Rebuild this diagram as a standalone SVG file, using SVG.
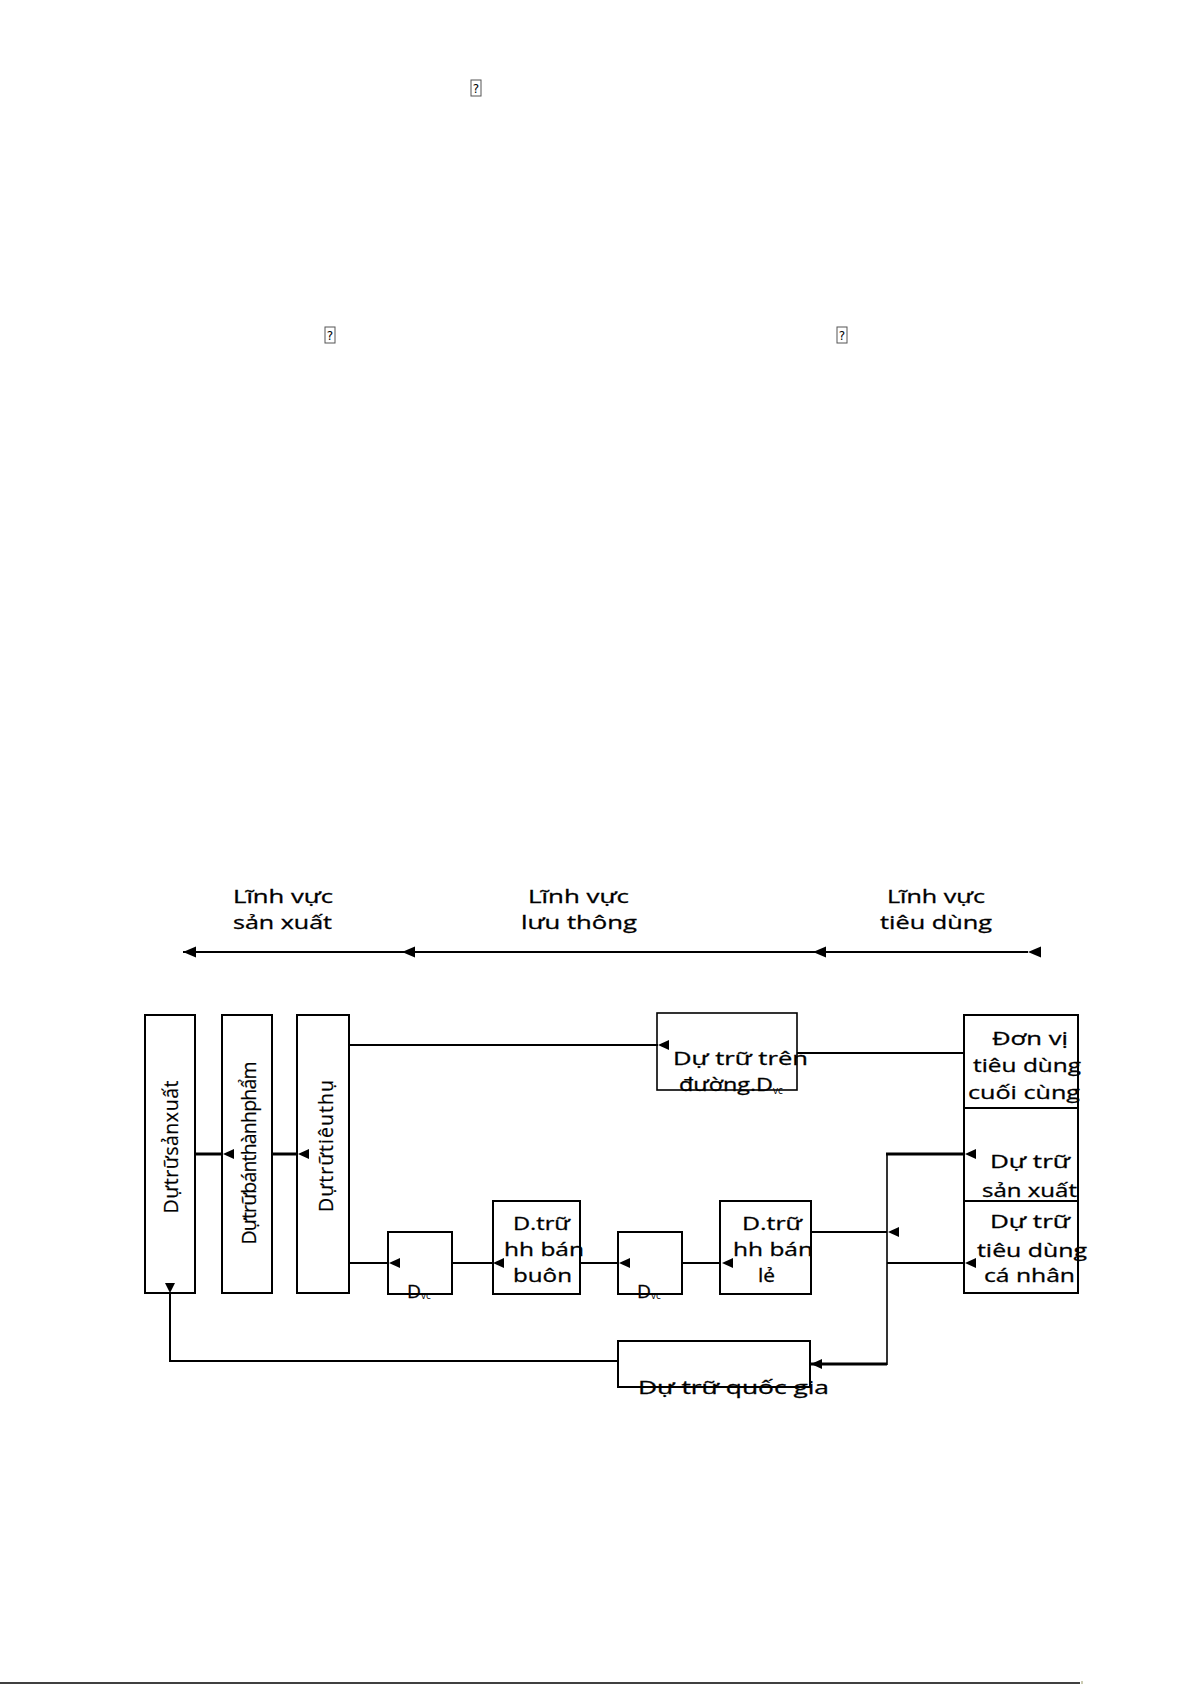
<svg xmlns="http://www.w3.org/2000/svg" xmlns:xlink="http://www.w3.org/1999/xlink" width="1192" height="1685" viewBox="0 0 1192 1685">
<style>
  .bg{fill:#ffffff}
  .box{fill:none;stroke:#000;stroke-width:2}
  .thin{fill:none;stroke:#000;stroke-width:1.6}
  .ln{fill:none;stroke:#000;stroke-width:2}
  .thk{fill:none;stroke:#000;stroke-width:3}
  .ah{fill:#000}
  .t{font-family:"Open Sans","Liberation Sans",sans-serif;font-size:18.5px;fill:#000;text-anchor:start;stroke:#000;stroke-width:0.3}
  .v{font-family:"Open Sans","Liberation Sans",sans-serif;font-size:19.5px;fill:#000;text-anchor:middle;stroke:#000;stroke-width:0.2}
  .sub{font-family:"Open Sans","Liberation Sans",sans-serif;font-size:10px;fill:#000}
  .q{font-family:"DejaVu Sans",sans-serif;font-size:12px;fill:#000;text-anchor:middle}
  .qb{fill:#fff;stroke:#555;stroke-width:1}
</style>
<defs>
  <path id="ah" d="M0,0 L11,-5 L11,5 Z"/>
  <path id="ahL" d="M0,0 L13,-5.5 L13,5.5 Z"/>
</defs>
<rect class="bg" x="0" y="0" width="1192" height="1685"/>

<g id="missing-glyphs">
  <rect class="qb" x="471" y="80" width="10" height="16"/>
  <text class="q" x="476" y="93">?</text>
  <rect class="qb" x="325" y="327" width="10" height="16"/>
  <text class="q" x="330" y="340">?</text>
  <rect class="qb" x="837" y="327" width="10" height="16"/>
  <text class="q" x="842" y="340">?</text>
</g>

<g id="labels">
  <text class="t" x="233" y="903" textLength="100" lengthAdjust="spacingAndGlyphs">Lĩnh vực</text>
  <text class="t" x="233" y="929" textLength="99" lengthAdjust="spacingAndGlyphs">sản xuất</text>
  <text class="t" x="528" y="903" textLength="101" lengthAdjust="spacingAndGlyphs">Lĩnh vực</text>
  <text class="t" x="521" y="929" textLength="116" lengthAdjust="spacingAndGlyphs">lưu thông</text>
  <text class="t" x="887" y="903" textLength="98" lengthAdjust="spacingAndGlyphs">Lĩnh vực</text>
  <text class="t" x="880" y="929" textLength="112" lengthAdjust="spacingAndGlyphs">tiêu dùng</text>
</g>

<g id="connectors">
  <!-- top axis -->
  <line class="ln" x1="183" y1="952" x2="1028" y2="952"/>
  <use href="#ahL" class="ah" x="183" y="952"/>
  <use href="#ahL" class="ah" x="402" y="952"/>
  <use href="#ahL" class="ah" x="813" y="952"/>
  <use href="#ahL" class="ah" x="1028" y="952"/>
  <!-- box1 <- box2 <- box3 -->
  <line class="thk" x1="195" y1="1154" x2="222" y2="1154"/>
  <use href="#ah" class="ah" x="223" y="1154"/>
  <line class="thk" x1="272" y1="1154" x2="297" y2="1154"/>
  <use href="#ah" class="ah" x="298" y="1154"/>
  <!-- box3 top line to in-transit box -->
  <line class="ln" x1="349" y1="1045" x2="658" y2="1045"/>
  <use href="#ah" class="ah" x="658" y="1045"/>
  <!-- in-transit to end consumer -->
  <line class="ln" x1="797" y1="1053" x2="964" y2="1053"/>
  <!-- lower chain -->
  <line class="ln" x1="349" y1="1263" x2="388" y2="1263"/>
  <use href="#ah" class="ah" x="389" y="1263"/>
  <line class="ln" x1="452" y1="1263" x2="493" y2="1263"/>
  <use href="#ah" class="ah" x="493" y="1263"/>
  <line class="ln" x1="580" y1="1263" x2="618" y2="1263"/>
  <use href="#ah" class="ah" x="619" y="1263"/>
  <line class="ln" x1="682" y1="1263" x2="720" y2="1263"/>
  <use href="#ah" class="ah" x="722" y="1263"/>
  <!-- retail to vertical bus -->
  <line class="ln" x1="811" y1="1232" x2="887" y2="1232"/>
  <use href="#ah" class="ah" x="888" y="1232"/>
  <!-- vertical bus -->
  <line class="thin" x1="887" y1="1153" x2="887" y2="1365"/>
  <line class="thk" x1="886" y1="1154" x2="964" y2="1154"/>
  <use href="#ah" class="ah" x="965" y="1154"/>
  <line class="ln" x1="887" y1="1263" x2="964" y2="1263"/>
  <use href="#ah" class="ah" x="965" y="1263"/>
  <line class="thk" x1="887" y1="1364" x2="811" y2="1364"/>
  <use href="#ah" class="ah" x="811" y="1364"/>
  <!-- national reserve back to production -->
  <polyline class="ln" points="618,1361 170,1361 170,1294"/>
  <path class="ah" d="M170,1293 L165,1283 L175,1283 Z"/>
</g>

<g id="n-sx">
  <rect class="box" x="145" y="1015" width="50" height="278"/>
  <text class="v" transform="translate(178,1147) rotate(-90)" textLength="133" lengthAdjust="spacing">Dựtrữsảnxuất</text>
</g>
<g id="n-btp">
  <rect class="box" x="222" y="1015" width="50" height="278"/>
  <text class="v" transform="translate(256,1153) rotate(-90)" textLength="183" lengthAdjust="spacing">Dựtrữbánthànhphẩm</text>
</g>
<g id="n-tt">
  <rect class="box" x="297" y="1015" width="52" height="278"/>
  <text class="v" transform="translate(333,1146) rotate(-90)" textLength="132" lengthAdjust="spacing">Dựtrữtiêuthụ</text>
</g>

<g id="n-duong">
  <text class="t" x="673" y="1065" textLength="135" lengthAdjust="spacingAndGlyphs">Dự trữ trên</text>
  <text class="t" x="679" y="1091" textLength="94" lengthAdjust="spacingAndGlyphs">đường.D</text>
  <text class="sub" x="773" y="1094">vc</text>
  <rect class="thin" x="657" y="1013" width="140" height="77"/>
</g>

<g id="n-dvc1">
  <text class="t" x="407" y="1298" textLength="14" lengthAdjust="spacingAndGlyphs">D</text>
  <text class="sub" x="421" y="1299">vc</text>
  <rect class="box" x="388" y="1232" width="64" height="62"/>
</g>
<g id="n-buon">
  <rect class="box" x="493" y="1201" width="87" height="93"/>
  <text class="t" x="513" y="1230" textLength="57" lengthAdjust="spacingAndGlyphs">D.trữ</text>
  <text class="t" x="504" y="1256" textLength="80" lengthAdjust="spacingAndGlyphs">hh bán</text>
  <text class="t" x="513" y="1282" textLength="59" lengthAdjust="spacingAndGlyphs">buôn</text>
</g>
<g id="n-dvc2">
  <text class="t" x="637" y="1298" textLength="14" lengthAdjust="spacingAndGlyphs">D</text>
  <text class="sub" x="651" y="1299">vc</text>
  <rect class="box" x="618" y="1232" width="64" height="62"/>
</g>
<g id="n-le">
  <rect class="box" x="720" y="1201" width="91" height="93"/>
  <text class="t" x="742" y="1230" textLength="60" lengthAdjust="spacingAndGlyphs">D.trữ</text>
  <text class="t" x="733" y="1256" textLength="80" lengthAdjust="spacingAndGlyphs">hh bán</text>
  <text class="t" x="758" y="1282" textLength="17" lengthAdjust="spacingAndGlyphs">lẻ</text>
</g>

<g id="n-cuoi">
  <rect class="box" x="964" y="1015" width="114" height="93"/>
  <text class="t" x="992" y="1045" textLength="76" lengthAdjust="spacingAndGlyphs">Đơn vị</text>
  <text class="t" x="973" y="1072" textLength="108" lengthAdjust="spacingAndGlyphs">tiêu dùng</text>
  <text class="t" x="968" y="1099" textLength="112" lengthAdjust="spacingAndGlyphs">cuối cùng</text>
</g>
<g id="n-sxr">
  <rect class="box" x="964" y="1108" width="114" height="93"/>
  <text class="t" x="990" y="1168" textLength="80" lengthAdjust="spacingAndGlyphs">Dự trữ</text>
  <text class="t" x="982" y="1197" textLength="95" lengthAdjust="spacingAndGlyphs">sản xuất</text>
</g>
<g id="n-cn">
  <rect class="box" x="964" y="1201" width="114" height="92"/>
  <text class="t" x="990" y="1228" textLength="80" lengthAdjust="spacingAndGlyphs">Dự trữ</text>
  <text class="t" x="977" y="1257" textLength="110" lengthAdjust="spacingAndGlyphs">tiêu dùng</text>
  <text class="t" x="984" y="1282" textLength="91" lengthAdjust="spacingAndGlyphs">cá nhân</text>
</g>

<g id="n-qg">
  <rect class="box" x="618" y="1341" width="192" height="46"/>
  <text class="t" x="638" y="1394" textLength="191" lengthAdjust="spacingAndGlyphs">Dự trữ quốc gia</text>
</g>

<g id="page-rule">
  <line x1="0" y1="1683" x2="1080" y2="1683" stroke="#000" stroke-width="1.5"/>
  <line x1="1082" y1="1681" x2="1082" y2="1684" stroke="#996" stroke-width="1"/>
</g>
</svg>
